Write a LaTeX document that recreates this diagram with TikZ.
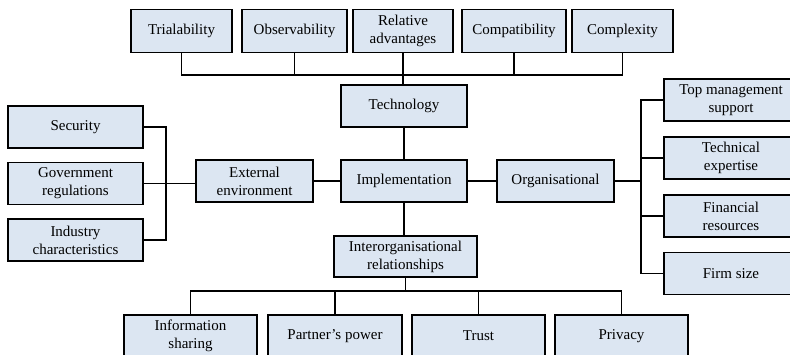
\documentclass[tikz,border=0pt]{standalone}
\usepackage{fontspec}
\setmainfont{Liberation Serif}
\usepackage{tikz}
\usetikzlibrary{arrows.meta}
\definecolor{boxblue}{RGB}{220,230,242}
\tikzset{factor/.style={rectangle, draw=black, fill=boxblue, line width=1.8pt, align=center, inner sep=2pt, font=\fontsize{15}{18}\selectfont},
  link/.style={line width=1.8pt}}
\newcommand{\factor}[5] {\node at (#1) (#2) [factor, minimum width=#3, minimum height=#4] {#5};}
\newcommand{\bus}[2] {\coordinate (#1) at (#2);}

\begin{document}
\begin{tikzpicture}[x=1pt, y=-1pt]
\clip (0,0) rectangle (790,354);
\fill[white] (0,0) rectangle (790,354);

% technology attributes
\factor {181.5,31} {tri} {101pt} {43pt} {Trialability};
\factor {294.5,31} {obs} {105pt} {43pt} {Observability};
\factor {403,31} {rel} {100pt} {43pt} {Relative\\advantages};
\factor {514,31} {comp} {104pt} {43pt} {Compatibility};
\factor {622.5,31} {cplx} {101pt} {43pt} {Complexity};

% centre column
\factor {404,106} {tech} {126pt} {42pt} {Technology};
\factor {404,181} {impl} {126pt} {42pt} {Implementation};
\factor {254.5,181} {ext} {117pt} {42pt} {External\\environment};
\factor {555.5,181} {org} {117pt} {42pt} {Organisational};
\factor {405.5,256.5} {inter} {143pt} {41pt} {Interorganisational\\relationships};

% external environment
\factor {75.5,127} {sec} {135pt} {42pt} {Security};
\factor {75.5,183.5} {gov} {135pt} {42pt} {Government\\regulations};
\factor {75.5,240} {ind} {135pt} {42pt} {Industry\\characteristics};

% organisational
\factor {731,100} {topm} {134pt} {42pt} {Top management\\support};
\factor {731,158} {texp} {134pt} {42pt} {Technical\\expertise};
\factor {731,216} {fin} {134pt} {42pt} {Financial\\resources};
\factor {731,273.5} {firm} {134pt} {42pt} {Firm size};

% interorganisational
\factor {190.5,336} {info} {133pt} {42pt} {Information\\sharing};
\factor {335,336} {power} {134pt} {42pt} {Partner's power};
\factor {478.5,336} {trust} {133pt} {42pt} {Trust};
\factor {621.5,336} {priv} {133pt} {42pt} {Privacy};

\bus {topbus} {403,75};
\bus {leftbus} {166,184};
\bus {rightbus} {641,182};
\bus {botbus} {405,291};

\draw [link] (tri.south) |- (topbus) -| (cplx.south);
\draw [link] (obs.south) -- (obs.south |- topbus);
\draw [link] (comp.south) -- (comp.south |- topbus);
\draw [link] (rel.south) -- (rel.south |- tech.north);
\draw [link] (tech.south) -- (impl.north);
\draw [link] (impl.south) -- (impl.south |- inter.north);
\draw [link] (impl.west) -- (ext.east);
\draw [link] (impl.east) -- (org.west);

\draw [link] (sec.east) -| (leftbus) |- (ind.east);
\draw [link] (gov.east) -- (gov.east -| ext.west);

\draw [link] (topm.west) -| (rightbus) |- (firm.west);
\draw [link] (org.east) -- (org.east -| rightbus);
\draw [link] (texp.west) -- (texp.west -| rightbus);
\draw [link] (fin.west) -- (fin.west -| rightbus);

\draw [link] (inter.south) -- (inter.south |- botbus);
\draw [link] (info.north) |- (botbus) -| (priv.north);
\draw [link] (power.north) -- (power.north |- botbus);
\draw [link] (trust.north) -- (trust.north |- botbus);
\end{tikzpicture}
\end{document}
